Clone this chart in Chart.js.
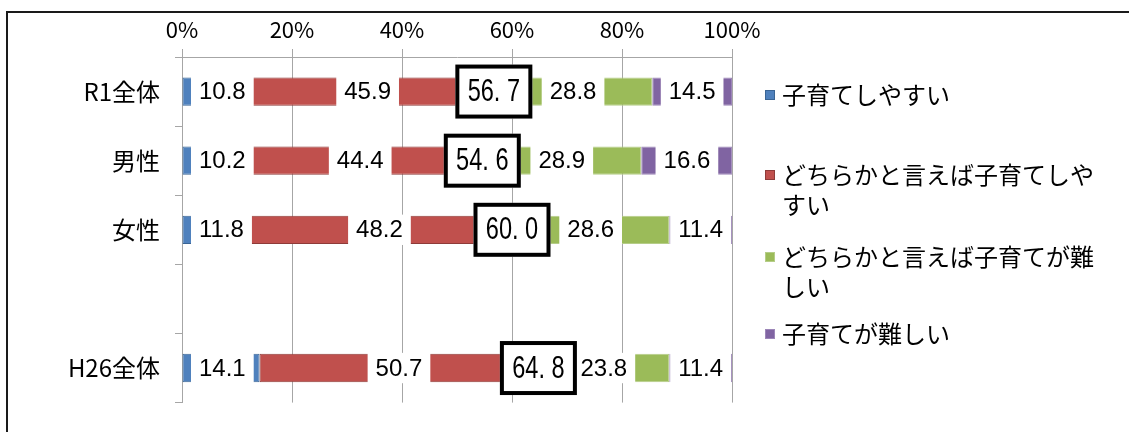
<!DOCTYPE html>
<html lang="ja">
<head>
<meta charset="utf-8">
<title>子育てのしやすさ</title>
<script src="https://cdn.jsdelivr.net/npm/chart.js@4/dist/chart.umd.min.js"></script>
<style>
  html, body { margin: 0; padding: 0; background: #fff; }
  #wrap { width: 1129px; height: 432px; }
</style>
</head>
<body>
<div id="wrap"><canvas id="chart" width="1129" height="432"></canvas></div>
<script>
const categories = ['R1全体', '男性', '女性', '', 'H26全体'];
const seriesNames = [
  '子育てしやすい',
  'どちらかと言えば子育てしやすい',
  'どちらかと言えば子育てが難しい',
  '子育てが難しい',
];
const easy = [10.8, 10.2, 11.8, null, 14.1];
const ratherEasy = [45.9, 44.4, 48.2, null, 50.7];
const ratherHard = [28.8, 28.9, 28.6, null, 23.8];
const hard = [14.5, 16.6, 11.4, null, 11.4];
// 「しやすい」合計（枠付きの数字）
const easyTotal = [56.7, 54.6, 60.0, null, 64.8];
const xTicks = [0, 20, 40, 60, 80, 100];

const fillColors = ['#4F81BD', '#C0504D', '#9BBB59', '#8064A2'];
const edgeColors = ['#3A6595', '#8E3B39', '#B5CD88', '#9C86B8'];
const jpFont = '"Noto Sans CJK JP", "Noto Sans", sans-serif';
const numFont = '"Liberation Sans", Arial, sans-serif';

const labelPlugin = {
  id: 'segmentLabels',
  afterDatasetsDraw(chart) {
    const ctx = chart.ctx;
    const xScale = chart.scales.x;
    const left = chart.chartArea.left;
    ctx.save();
    ctx.font = '24px ' + numFont;
    ctx.textAlign = 'center';
    ctx.textBaseline = 'middle';
    chart.data.datasets.forEach((ds, i) => {
      const meta = chart.getDatasetMeta(i);
      meta.data.forEach((bar, j) => {
        const v = ds.data[j];
        if (v == null) return;
        const text = v.toFixed(1);
        const w = ctx.measureText(text).width + 16;
        const h = bar.height + 2;
        const mid = (bar.base + bar.x) / 2;
        const cx = Math.max(mid, left + 9 + w / 2);
        ctx.fillStyle = '#fff';
        ctx.fillRect(cx - w / 2, bar.y - h / 2, w, h);
        ctx.fillStyle = '#000';
        ctx.fillText(text, cx, bar.y + 1);
      });
    });

    // 合計の枠
    const meta0 = chart.getDatasetMeta(0);
    easyTotal.forEach((v, j) => {
      if (v == null) return;
      const cx = xScale.getPixelForValue(v);
      const cy = meta0.data[j].y;
      const w = 77, h = 54;
      ctx.fillStyle = '#fff';
      ctx.fillRect(cx - w / 2, cy - h / 2, w, h);
      ctx.lineWidth = 4;
      ctx.strokeStyle = '#000';
      ctx.strokeRect(cx - w / 2 + 2, cy - h / 2 + 2, w - 4, h - 4);
      ctx.save();
      ctx.translate(cx, cy + 1);
      ctx.scale(0.76, 1);
      ctx.font = '31px ' + numFont;
      ctx.fillStyle = '#000';
      ctx.fillText(v.toFixed(1).replace('.', '. '), 0, 0);
      ctx.restore();
    });
    ctx.restore();
  },
};

function wrapText(ctx, text, maxWidth) {
  const lines = [];
  let line = '';
  for (const ch of text) {
    if (line && ctx.measureText(line + ch).width > maxWidth) {
      lines.push(line);
      line = ch;
    } else {
      line += ch;
    }
  }
  if (line) lines.push(line);
  return lines;
}

const legendPlugin = {
  id: 'sideLegend',
  afterDraw(chart) {
    const ctx = chart.ctx;
    const rows = [95, 175, 257, 334];
    ctx.save();
    ctx.font = '24px ' + jpFont;
    ctx.textAlign = 'left';
    ctx.textBaseline = 'middle';
    chart.data.datasets.forEach((ds, i) => {
      const y = rows[i];
      ctx.fillStyle = ds.backgroundColor;
      ctx.fillRect(765, y - 5, 10, 10);
      ctx.strokeStyle = ds.borderColor;
      ctx.lineWidth = 1;
      ctx.strokeRect(765.5, y - 4.5, 9, 9);
      ctx.fillStyle = '#000';
      wrapText(ctx, ds.label, 325).forEach((line, k) => {
        ctx.fillText(line, 782, y + k * 30);
      });
    });

    // 外枠（上と左）
    ctx.strokeStyle = '#1a1a1a';
    ctx.lineWidth = 2;
    ctx.beginPath();
    ctx.moveTo(1129, 12);
    ctx.lineTo(7, 12);
    ctx.lineTo(7, 432);
    ctx.stroke();
    ctx.restore();
  },
};

const seriesData = [easy, ratherEasy, ratherHard, hard];

new Chart(document.getElementById('chart').getContext('2d'), {
  type: 'bar',
  data: {
    labels: categories,
    datasets: seriesData.map((values, i) => ({
      label: seriesNames[i],
      data: values,
      backgroundColor: fillColors[i],
      borderColor: edgeColors[i],
      borderWidth: 1,
      borderSkipped: false,
      barPercentage: 0.41,
      categoryPercentage: 1,
    })),
  },
  options: {
    responsive: false,
    animation: false,
    indexAxis: 'y',
    layout: { padding: { left: 0, right: 397, top: 0, bottom: 24 } },
    plugins: {
      legend: { display: false },
      tooltip: { enabled: false },
    },
    scales: {
      x: {
        position: 'top',
        stacked: true,
        min: 0,
        max: 100,
        afterBuildTicks: (axis) => { axis.ticks = xTicks.map((v) => ({ value: v })); },
        afterFit: (scale) => { scale.height = 57; },
        ticks: {
          callback: (v) => v + '%',
          color: '#000',
          font: { family: jpFont, size: 22 },
          padding: 6,
          maxRotation: 0,
        },
        grid: { color: '#a6a6a6', tickLength: 8 },
        border: { color: '#a6a6a6' },
      },
      y: {
        stacked: true,
        afterFit: (scale) => { scale.width = 182; },
        ticks: {
          color: '#000',
          font: { family: jpFont, size: 24 },
          padding: 15,
        },
        grid: { offset: true, drawOnChartArea: false, tickLength: 7, color: '#a6a6a6' },
        border: { color: '#a6a6a6' },
      },
    },
  },
  plugins: [labelPlugin, legendPlugin],
});
</script>
</body>
</html>
